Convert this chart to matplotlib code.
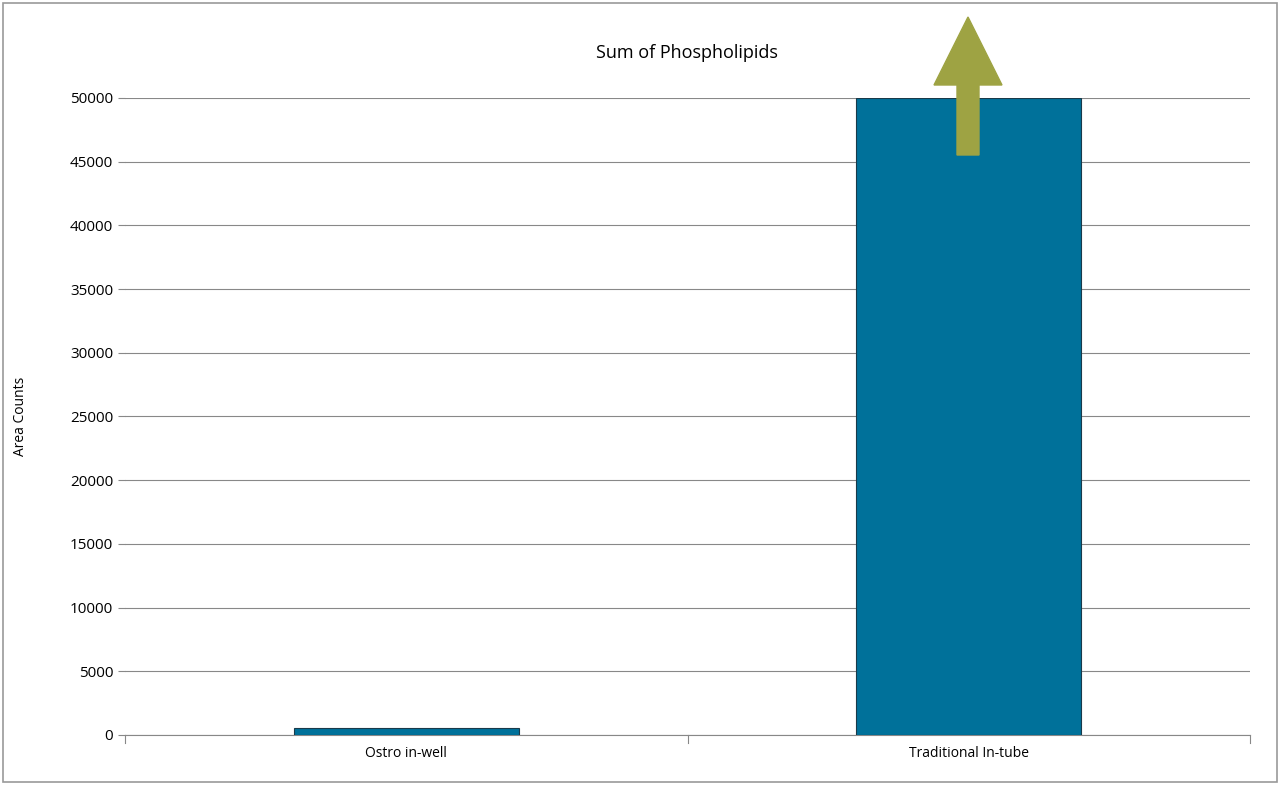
import matplotlib
matplotlib.use("Agg")
import matplotlib.pyplot as plt
from matplotlib.patches import FancyArrow, Rectangle

categories = ["Ostro in-well", "Traditional In-tube"]
values = [550, 50000]
yticks = list(range(0, 50001, 5000))

plt.rcParams['font.family'] = ['Open Sans', 'DejaVu Sans']
fig = plt.figure(figsize=(12.8, 7.85), dpi=100)
W, H = 1280, 785
ax = fig.add_axes([125/W, 1-735/H, 1125/W, 637/H])
x = [0, 1]
ax.bar(x, values, width=0.4, color="#00719a", edgecolor="#1a3a4a", linewidth=0.8, zorder=3)
ax.set_xlim(-0.5, 1.5)
ax.set_ylim(0, 50000)
ax.set_yticks(yticks)
ax.set_yticklabels([str(t) for t in yticks], fontsize=11)
ax.grid(axis='y', color='#888888', linewidth=0.8, zorder=0)
ax.set_xticks(x)
ax.set_xticklabels(categories, fontsize=10)
ax.tick_params(axis='x', length=0, pad=8)
ax.tick_params(axis='y', length=5, color='#888888')
for xb in [-0.5, 0.5, 1.5]:
    ax.plot([xb, xb], [0, -0.012], transform=ax.get_xaxis_transform(), color='#888888', lw=0.8, clip_on=False)
for s in ['top', 'right', 'left']:
    ax.spines[s].set_visible(False)
ax.spines['bottom'].set_color('#888888')
ax.set_ylabel("Area Counts", fontsize=10, labelpad=30)
fig.text(687/W, 1-53/H, "Sum of Phospholipids", ha='center', va='center', fontsize=13)

# up arrow beyond the axis top
fig.patches.append(FancyArrow(968/W, 1-155/H, 0, (155-17)/H, width=22/W, head_width=68/W,
                              head_length=68/H, length_includes_head=True,
                              color="#9ea343", transform=fig.transFigure, figure=fig))
fig.patches.append(Rectangle((3/W, 3/H), 1-6/W, 1-6/H, fill=False, edgecolor='#999999',
                             linewidth=1.2, transform=fig.transFigure, figure=fig))
fig.savefig("out.png", dpi=100)
